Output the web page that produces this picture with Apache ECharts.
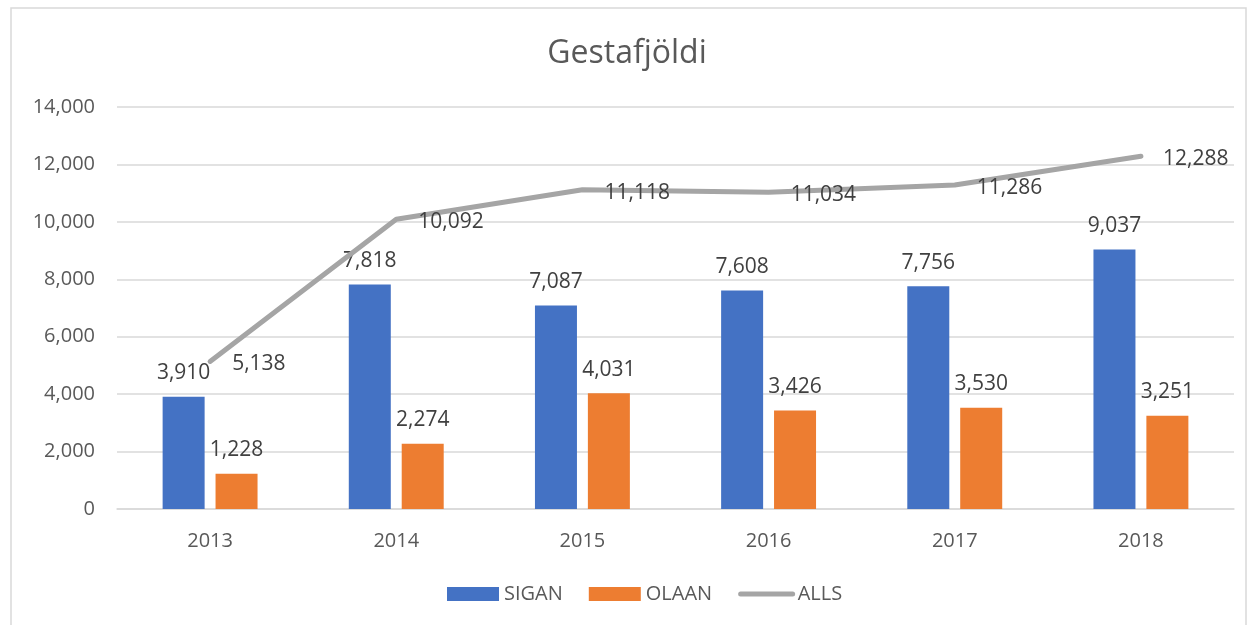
<!DOCTYPE html>
<html>
<head>
<meta charset="utf-8">
<script src="https://cdn.jsdelivr.net/npm/echarts@6/dist/echarts.min.js"></script>
<style>
    html, body { margin: 0; padding: 0; background: #fff; }
    #main { width: 1254px; height: 625px; }
</style>
</head>
<body>
<div id="main"></div>
<script>
var years = ['2013', '2014', '2015', '2016', '2017', '2018'];
var sigan = [3910, 7818, 7087, 7608, 7756, 9037];
var olaan = [1228, 2274, 4031, 3426, 3530, 3251];
var alls = [5138, 10092, 11118, 11034, 11286, 12288];

var textColor = '#595959';
var fontFam = '"Open Sans", "Noto Sans", sans-serif';

function fmt(p) {
    return p.value.toLocaleString('en-US');
}

var chart = echarts.init(document.getElementById('main'));
var option = {
    animation: false,
    textStyle: { fontFamily: fontFam, color: textColor },
    graphic: [{
        type: 'rect',
        shape: { x: 11, y: 8, width: 1235, height: 640 },
        style: { fill: 'none', stroke: '#d9d9d9', lineWidth: 1.5 },
        silent: true
    }],
    title: {
        text: 'Gestafjöldi',
        left: 'center',
        top: 33,
        textStyle: { fontFamily: fontFam, fontSize: 32, fontWeight: 'normal', color: textColor }
    },
    legend: {
        bottom: 16,
        left: 442,
        itemWidth: 52,
        itemHeight: 14,
        itemGap: 26,
        textStyle: { fontFamily: fontFam, fontSize: 20, color: textColor },
        data: [
            { name: 'SIGAN', icon: 'rect' },
            { name: 'OLAAN', icon: 'rect' },
            {
                name: 'ALLS',
                itemStyle: { opacity: 0 },
                lineStyle: { width: 5, color: '#a5a5a5', cap: 'round' }
            }
        ]
    },
    grid: { left: 117, right: 20, top: 107, bottom: 116 },
    xAxis: {
        type: 'category',
        data: years,
        axisLine: { lineStyle: { color: '#d9d9d9', width: 1.5 } },
        axisTick: { show: false },
        axisLabel: { color: textColor, fontSize: 20, margin: 22, fontFamily: fontFam }
    },
    yAxis: {
        type: 'value',
        min: 0,
        max: 14000,
        interval: 2000,
        axisLine: { show: false },
        axisTick: { show: false },
        splitLine: { lineStyle: { color: '#d9d9d9', width: 1.5 } },
        axisLabel: {
            color: textColor, fontSize: 20, margin: 22, fontFamily: fontFam,
            formatter: function(v) { return v.toLocaleString('en-US'); }
        }
    },
    series: [{
            name: 'SIGAN',
            type: 'bar',
            data: sigan,
            barWidth: 42,
            barGap: '26%',
            itemStyle: { color: '#4472c4' },
            label: { show: true, position: 'top', distance: 13, color: '#404040', fontSize: 21, fontFamily: fontFam, formatter: fmt }
        },
        {
            name: 'OLAAN',
            type: 'bar',
            data: olaan,
            barWidth: 42,
            itemStyle: { color: '#ed7d31' },
            label: { show: true, position: 'top', distance: 13, color: '#404040', fontSize: 21, fontFamily: fontFam, formatter: fmt }
        },
        {
            name: 'ALLS',
            type: 'line',
            data: alls,
            symbol: 'circle',
            symbolSize: 0.1,
            showSymbol: true,
            lineStyle: { color: '#a5a5a5', width: 5, cap: 'round' },
            itemStyle: { color: '#a5a5a5' },
            label: { show: true, position: 'right', distance: 22, offset: [0, 3], color: '#404040', fontSize: 21, fontFamily: fontFam, formatter: fmt }
        }
    ]
};
chart.setOption(option);
</script>
</body>
</html>
